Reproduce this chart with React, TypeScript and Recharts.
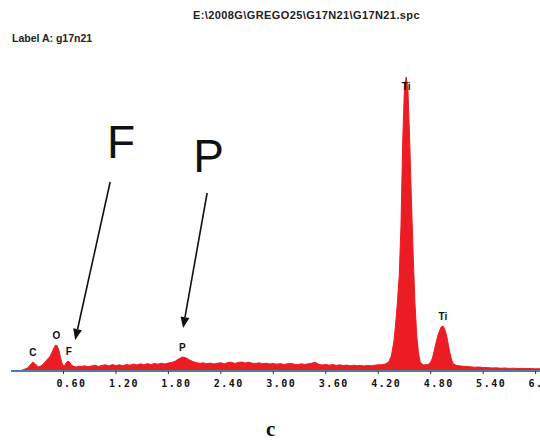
import { AreaChart, Area, XAxis, YAxis, ReferenceDot, ReferenceLine } from 'recharts';

// EDS spectrum, energy in keV, counts
const energies = [
  0.1, 0.13, 0.16, 0.19, 0.22, 0.25, 0.28, 0.31, 0.34, 0.37, 0.4, 0.43, 0.45, 0.47, 0.49, 0.51, 0.53,
  0.55, 0.57, 0.59, 0.61, 0.63, 0.65, 0.67, 0.69, 0.72, 0.75, 0.78,
  0.8, 0.84, 0.88, 0.92, 0.96, 1.0, 1.04, 1.08, 1.12, 1.16, 1.2, 1.24, 1.28, 1.32, 1.36, 1.4, 1.44,
  1.48, 1.52, 1.56, 1.6, 1.64, 1.68, 1.72, 1.76, 1.8, 1.84, 1.88, 1.92, 1.96, 2.0, 2.04, 2.08, 2.12,
  2.16, 2.2, 2.24, 2.28, 2.32, 2.36, 2.4, 2.44, 2.48, 2.52, 2.56, 2.6, 2.64, 2.68, 2.72, 2.76, 2.8,
  2.84, 2.88, 2.92, 2.96, 3.0, 3.04, 3.08, 3.12, 3.16, 3.2, 3.24, 3.28, 3.32, 3.36, 3.4, 3.44, 3.48,
  3.52, 3.56, 3.6, 3.64, 3.68, 3.72, 3.76, 3.8, 3.84, 3.88, 3.92, 3.96, 4.0, 4.04, 4.08, 4.12, 4.16,
  4.2, 4.24, 4.28, 4.32, 4.35, 4.38, 4.4, 4.42, 4.44, 4.46, 4.48, 4.5, 4.52, 4.54, 4.56, 4.58, 4.6,
  4.62, 4.64, 4.66, 4.68, 4.7, 4.72, 4.74, 4.76, 4.78, 4.8, 4.82, 4.84, 4.86, 4.88, 4.9, 4.92, 4.94,
  4.96, 4.98, 5.0, 5.02, 5.04, 5.06, 5.1, 5.15, 5.2, 5.25, 5.3, 5.35, 5.4, 5.45, 5.5, 5.55, 5.6,
  5.65, 5.7, 5.75, 5.8, 5.85, 5.9, 5.95, 6.0, 6.05,
];
const counts = [
  0, 10, 20, 30, 60, 90, 70, 40, 50, 70, 100, 130, 150, 190, 230, 260, 250,
  200, 120, 60, 50, 80, 100, 90, 60, 45, 40, 48,
  44, 52, 42, 50, 58, 46, 56, 62, 50, 64, 54, 62, 52, 66, 58, 70, 60,
  72, 62, 74, 64, 76, 68, 78, 70, 80, 86, 100, 122, 140, 132, 112, 94, 84,
  76, 82, 72, 80, 70, 78, 82, 72, 84, 88, 76, 86, 90, 80, 88, 78, 76,
  82, 72, 78, 70, 76, 68, 74, 66, 72, 76, 68, 64, 72, 66, 72, 78, 88,
  66, 60, 66, 58, 64, 56, 62, 54, 60, 52, 58, 52, 56, 50, 56, 52, 58,
  62, 62, 70, 90, 150, 300, 480, 700, 950, 1450, 2300, 2850, 2940, 2800, 2300, 1700, 1150,
  680, 360, 180, 90, 70, 60, 65, 62, 70, 90, 130, 200, 280, 350, 400, 440, 450,
  420, 360, 270, 180, 110, 70, 55, 50, 45, 42, 38, 40, 35, 34, 30, 32, 28,
  30, 26, 28, 25, 26, 24, 25, 22, 22,
];

const tickValues = [0.6, 1.2, 1.8, 2.4, 3.0, 3.6, 4.2, 4.8, 5.4, 6.0];

// element labels at the peak tops
const peakNames = ['C', 'O', 'F', 'P', 'Ti', 'Ti'];
const peakEnergies = [0.25, 0.52, 0.66, 1.96, 4.52, 4.94];
const peakCounts = [90, 260, 100, 140, 2940, 450];

// big hand-drawn annotations: letter, arrow start and arrow tip
const arrowNames = ['F', 'P'];
const arrowFrom = [
  { x: 1.134, y: 1890 },
  { x: 2.243, y: 1780 },
];
const arrowTo = [
  { x: 0.734, y: 310 },
  { x: 1.968, y: 430 },
];
const letterAt = [
  { x: 1.259, y: 2130 },
  { x: 2.259, y: 1990 },
];

const data = energies.map((e, i) => ({ energy: e, counts: counts[i] }));
const maxCounts = Math.max(...peakCounts);

const EnergyTick = ({ x, y, payload }: any) => (
  <text
    x={x + 8}
    y={y + 11}
    textAnchor="middle"
    fontFamily='"DejaVu Sans Mono", monospace'
    fontWeight="bold"
    fontSize={10}
    letterSpacing={1.5}
    fill="#111"
  >
    {payload.value.toFixed(2)}
  </text>
);

function Arrow({ x1, y1, x2, y2 }: any) {
  const ang = Math.atan2(y2 - y1, x2 - x1);
  const len = 11;
  const half = 4.5;
  const bx = x2 - len * Math.cos(ang);
  const by = y2 - len * Math.sin(ang);
  const px = -Math.sin(ang) * half;
  const py = Math.cos(ang) * half;
  return (
    <g>
      <line x1={x1} y1={y1} x2={bx} y2={by} stroke="#111" strokeWidth={1.6} />
      <polygon points={`${x2},${y2} ${bx + px},${by + py} ${bx - px},${by - py}`} fill="#111" />
    </g>
  );
}

export default function App() {
  return (
    <div
      style={{
        position: 'absolute',
        left: 0,
        top: 0,
        width: 540,
        height: 440,
        background: '#fff',
        fontFamily: '"Liberation Sans", Arial, sans-serif',
      }}
    >
      <div style={{ position: 'absolute', left: 193, top: 9, fontSize: 11, fontWeight: 'bold', color: '#222', letterSpacing: 0.4 }}>
        E:\2008G\GREGO25\G17N21\G17N21.spc
      </div>
      <div style={{ position: 'absolute', left: 12, top: 32, fontSize: 10.5, fontWeight: 'bold', color: '#222' }}>
        Label A: g17n21
      </div>
      <AreaChart width={540} height={440} data={data} margin={{ top: 71, right: 0, bottom: 39, left: 11 }}>
        <XAxis
          dataKey="energy"
          type="number"
          domain={[0, 6.05]}
          ticks={tickValues}
          allowDataOverflow
          axisLine={{ stroke: '#4d7f99', strokeWidth: 2 }}
          tickLine={{ stroke: '#333' }}
          tickSize={3}
          tick={<EnergyTick />}
          interval={0}
        />
        <YAxis hide domain={[0, 3000]} />
        <Area
          type="linear"
          dataKey="counts"
          stroke="#ec1c24"
          strokeWidth={1}
          fill="#ec1c24"
          fillOpacity={1}
          isAnimationActive={false}
          dot={false}
          activeDot={false}
        />
        {peakNames.map((name, i) => (
          <ReferenceDot
            key={'pk' + i}
            x={peakEnergies[i]}
            y={peakCounts[i]}
            r={0}
            shape={(p: any) => (
              <text
                x={p.cx}
                y={peakCounts[i] === maxCounts ? p.cy + 13 : p.cy - 6}
                textAnchor="middle"
                fontSize={10}
                fontWeight="bold"
                fontFamily='"Liberation Sans", Arial, sans-serif'
                fill="#111"
              >
                {name}
              </text>
            )}
          />
        ))}
        {arrowNames.map((name, i) => (
          <ReferenceLine
            key={'ar' + i}
            segment={[arrowFrom[i], arrowTo[i]]}
            shape={(p: any) => <Arrow {...p} />}
          />
        ))}
        {arrowNames.map((name, i) => (
          <ReferenceDot
            key={'lt' + i}
            x={letterAt[i].x}
            y={letterAt[i].y}
            r={0}
            shape={(p: any) => (
              <text
                x={p.cx}
                y={p.cy}
                textAnchor="middle"
                fontSize={46}
                fontFamily='"Liberation Sans", Arial, sans-serif'
                fill="#111"
              >
                {name}
              </text>
            )}
          />
        ))}
      </AreaChart>
      <div
        style={{
          position: 'absolute',
          left: 266,
          top: 417,
          fontSize: 21,
          fontWeight: 'bold',
          fontFamily: '"Liberation Serif", "DejaVu Serif", serif',
          color: '#111',
        }}
      >
        c
      </div>
    </div>
  );
}
